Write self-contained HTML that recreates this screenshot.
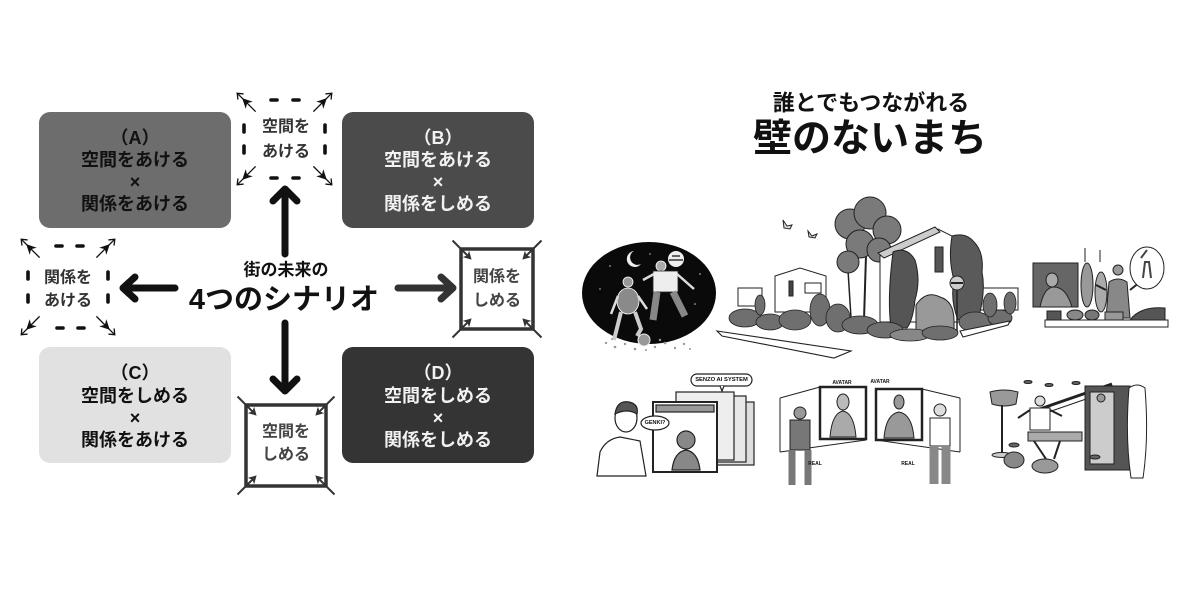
<!DOCTYPE html>
<html><head><meta charset="utf-8"><style>
html,body{margin:0;padding:0;background:#fff;}
svg{display:block;}
text{font-family:"Liberation Sans","Noto Sans CJK JP",sans-serif;font-weight:700;}
</style></head><body>
<svg width="1200" height="600" viewBox="0 0 1200 600" xmlns="http://www.w3.org/2000/svg">
<rect width="1200" height="600" fill="#fff"/>
<defs>
 <g id="oa">
   <line x1="-15" y1="0" x2="11" y2="0" stroke="#111" stroke-width="1.3"/>
   <polygon points="4,0 -6,-5 -3,0 -6,5" fill="#111"/>
   <polyline points="6,-4 11,0 6,4" fill="none" stroke="#111" stroke-width="1.3"/>
 </g>
 <g id="ia">
   <line x1="-13" y1="0" x2="12" y2="0" stroke="#333" stroke-width="2"/>
   <polygon points="-15,0 -7,-4.5 -9,0 -7,4.5" fill="#333"/>
 </g>
</defs>

<!-- ===== Quadrant boxes ===== -->
<rect x="39" y="112" width="192" height="116" rx="11" fill="#6d6d6d"/>
<rect x="342" y="112" width="192" height="116" rx="11" fill="#4b4b4b"/>
<rect x="39" y="347" width="192" height="116" rx="11" fill="#e1e1e1"/>
<rect x="342" y="347" width="192" height="116" rx="11" fill="#343434"/>

<g font-size="18" text-anchor="middle" dominant-baseline="central">
 <g fill="#111">
  <text x="135" y="138">（A）</text>
  <text x="135" y="160">空間をあける</text>
  <text x="135" y="182">×</text>
  <text x="135" y="204">関係をあける</text>
 </g>
 <g fill="#f2f2f2">
  <text x="438" y="138">（B）</text>
  <text x="438" y="160">空間をあける</text>
  <text x="438" y="182">×</text>
  <text x="438" y="204">関係をしめる</text>
 </g>
 <g fill="#111">
  <text x="135" y="373">（C）</text>
  <text x="135" y="396">空間をしめる</text>
  <text x="135" y="418">×</text>
  <text x="135" y="440">関係をあける</text>
 </g>
 <g fill="#f2f2f2">
  <text x="438" y="373">（D）</text>
  <text x="438" y="396">空間をしめる</text>
  <text x="438" y="418">×</text>
  <text x="438" y="440">関係をしめる</text>
 </g>
</g>

<!-- ===== Top dashed box (空間をあける) ===== -->
<g stroke="#111" stroke-width="3.6" stroke-linecap="round">
 <line x1="271" y1="100" x2="277" y2="100"/><line x1="293" y1="100" x2="299" y2="100"/>
 <line x1="271" y1="178" x2="277" y2="178"/><line x1="293" y1="178" x2="299" y2="178"/>
 <line x1="244" y1="125" x2="244" y2="132"/><line x1="244" y1="146" x2="244" y2="153"/>
 <line x1="325" y1="125" x2="325" y2="132"/><line x1="325" y1="146" x2="325" y2="153"/>
</g>
<use href="#oa" transform="translate(245,101) rotate(-135)"/>
<use href="#oa" transform="translate(324,101) rotate(-45)"/>
<use href="#oa" transform="translate(245,177) rotate(135)"/>
<use href="#oa" transform="translate(324,177) rotate(45)"/>
<g font-size="16" fill="#333" text-anchor="middle" dominant-baseline="central">
 <text x="286" y="127">空間を</text>
 <text x="286" y="152">あける</text>
</g>

<!-- ===== Left dashed box (関係をあける) ===== -->
<g stroke="#111" stroke-width="3.6" stroke-linecap="round">
 <line x1="56" y1="246" x2="62" y2="246"/><line x1="77" y1="246" x2="83" y2="246"/>
 <line x1="57" y1="328" x2="63" y2="328"/><line x1="78" y1="328" x2="84" y2="328"/>
 <line x1="28" y1="272" x2="28" y2="279"/><line x1="28" y1="295" x2="28" y2="302"/>
 <line x1="108" y1="272" x2="108" y2="279"/><line x1="108" y1="295" x2="108" y2="302"/>
</g>
<use href="#oa" transform="translate(29,247) rotate(-135)"/>
<use href="#oa" transform="translate(107,247) rotate(-45)"/>
<use href="#oa" transform="translate(29,327) rotate(135)"/>
<use href="#oa" transform="translate(107,327) rotate(45)"/>
<g font-size="16" fill="#333" text-anchor="middle" dominant-baseline="central">
 <text x="68" y="278">関係を</text>
 <text x="68" y="301">あける</text>
</g>

<!-- ===== Right solid box (関係をしめる) ===== -->
<rect x="461" y="249" width="72" height="80" fill="#fff" stroke="#333" stroke-width="3.5"/>
<use href="#ia" transform="translate(461,249) rotate(-135)"/>
<use href="#ia" transform="translate(533,249) rotate(-45)"/>
<use href="#ia" transform="translate(461,329) rotate(135)"/>
<use href="#ia" transform="translate(533,329) rotate(45)"/>
<g font-size="16" fill="#444" text-anchor="middle" dominant-baseline="central">
 <text x="497" y="277">関係を</text>
 <text x="497" y="301">しめる</text>
</g>

<!-- ===== Bottom solid box (空間をしめる) ===== -->
<rect x="246" y="405" width="80" height="81" fill="#fff" stroke="#333" stroke-width="3.5"/>
<use href="#ia" transform="translate(246,405) rotate(-135)"/>
<use href="#ia" transform="translate(326,405) rotate(-45)"/>
<use href="#ia" transform="translate(246,486) rotate(135)"/>
<use href="#ia" transform="translate(326,486) rotate(45)"/>
<g font-size="16" fill="#444" text-anchor="middle" dominant-baseline="central">
 <text x="286" y="432">空間を</text>
 <text x="286" y="455">しめる</text>
</g>

<!-- ===== Big arrows ===== -->
<g fill="none" stroke-width="7" stroke-linecap="round" stroke-linejoin="round">
 <g stroke="#111">
  <line x1="285" y1="194" x2="285" y2="254"/>
  <polyline points="273,201 285,189 297,201"/>
  <line x1="285" y1="323" x2="285" y2="386"/>
  <polyline points="273,379 285,391 297,379"/>
  <line x1="124" y1="288" x2="175" y2="288"/>
  <polyline points="135,277 123,288 135,299"/>
 </g>
 <g stroke="#333">
  <line x1="398" y1="288" x2="450" y2="288"/>
  <polyline points="441,277 453,288 441,299"/>
 </g>
</g>

<!-- ===== Center title ===== -->
<text x="286" y="270" font-size="17" fill="#111" text-anchor="middle" dominant-baseline="central">街の未来の</text>
<text x="284" y="300" font-size="29" fill="#111" text-anchor="middle" dominant-baseline="central">4つのシナリオ</text>

<!-- ===== Right title ===== -->
<text x="871" y="103" font-size="22" fill="#111" text-anchor="middle" dominant-baseline="central">誰とでもつながれる</text>
<text x="870" y="139" font-size="39" font-weight="900" fill="#111" text-anchor="middle" dominant-baseline="central">壁のないまち</text>

<!-- ===== Illustration 1: night soccer ===== -->
<ellipse cx="649" cy="293" rx="67" ry="51" fill="#0a0a0a"/>
<path d="M634,251 a8,8 0 1,0 7,13 a6.5,6.5 0 1,1 -7,-13z" fill="#eee"/>
<circle cx="676" cy="259" r="8" fill="#eee"/>
<path d="M669,260 h14 M672,256 h8" stroke="#111" stroke-width="1.2"/>
<g fill="#ccc">
 <circle cx="610" cy="266" r="0.8"/><circle cx="700" cy="274" r="0.8"/><circle cx="620" cy="304" r="0.7"/>
 <circle cx="695" cy="304" r="0.8"/><circle cx="650" cy="254" r="0.7"/><circle cx="600" cy="289" r="0.7"/>
</g>
<!-- left player -->
<circle cx="628" cy="282" r="5" fill="#999" stroke="#fff" stroke-width="0.8"/>
<ellipse cx="628" cy="301" rx="11" ry="13" fill="#8a8a8a" stroke="#fff" stroke-width="0.8"/>
<path d="M618,296 L611,314 M638,296 L647,309" stroke="#ddd" stroke-width="2.5" fill="none"/>
<path d="M621,312 L614,340 M635,312 L641,329 L637,336" stroke="#ccc" stroke-width="4" fill="none"/>
<!-- right player -->
<circle cx="661" cy="266" r="5" fill="#aaa" stroke="#fff" stroke-width="0.8"/>
<rect x="653" y="271" width="25" height="21" fill="#eee" stroke="#222" stroke-width="0.8"/>
<path d="M654,274 L643,280 M677,274 L694,289" stroke="#ddd" stroke-width="2.5" fill="none"/>
<path d="M657,292 L653,320 M673,292 L685,316" stroke="#888" stroke-width="7" fill="none"/>
<circle cx="644" cy="340" r="6" fill="#999" stroke="#eee" stroke-width="1"/>
<g fill="#999">
 <circle cx="606" cy="343" r="1.2"/><circle cx="615" cy="347" r="1.3"/><circle cx="625" cy="344" r="1.2"/>
 <circle cx="635" cy="349" r="1.3"/><circle cx="655" cy="347" r="1.2"/><circle cx="665" cy="343" r="1.3"/>
 <circle cx="675" cy="348" r="1.2"/><circle cx="684" cy="344" r="1.2"/><circle cx="612" cy="339" r="1"/>
 <circle cx="660" cy="340" r="1.2"/><circle cx="646" cy="350" r="1"/><circle cx="690" cy="349" r="1"/>
</g>

<!-- ===== Illustration 2: houses ===== -->
<g stroke="#222" stroke-width="1">
 <!-- birds -->
 <path d="M783,220 l4,6 l5,-1 l-2,4 l-6,-1z" fill="#ddd"/>
 <path d="M808,231 l4,5 l5,-2 l-2,4 l-6,-1z" fill="#ddd"/>
 <!-- tiny house -->
 <rect x="738" y="288" width="24" height="18" fill="#fff"/>
 <!-- left small house -->
 <polygon points="775,276 800,268 826,276 826,312 775,312" fill="#fff"/>
 <rect x="789" y="281" width="4" height="15" fill="#444"/>
 <rect x="805" y="283" width="16" height="10" fill="#fff"/>
 <!-- right small house -->
 <rect x="980" y="288" width="38" height="22" fill="#fff"/>
 <!-- big tree -->
 <line x1="866" y1="255" x2="864" y2="320" stroke-width="2"/>
 <line x1="848" y1="270" x2="851" y2="318" stroke-width="1.5"/>
 <circle cx="850" cy="224" r="15" fill="#7a7a7a"/>
 <circle cx="870" cy="213" r="16" fill="#7a7a7a"/>
 <circle cx="887" cy="230" r="14" fill="#7a7a7a"/>
 <circle cx="860" cy="244" r="14" fill="#7a7a7a"/>
 <circle cx="879" cy="250" r="12" fill="#7a7a7a"/>
 <circle cx="848" cy="262" r="11" fill="#7a7a7a"/>
 <!-- big house -->
 <polygon points="880,256 938,229 976,248 976,322 880,322" fill="#fff"/>
 <polygon points="878,253 935,227 940,232 884,258" fill="#ccc"/>
 <rect x="935" y="247" width="8" height="25" fill="#555"/>
 <!-- vines -->
 <path d="M952,236 q14,-4 22,6 q10,10 8,30 q4,20 -4,48 l-20,0 q-8,-20 -4,-40 q-6,-20 -2,-44z" fill="#5a5a5a"/>
 <path d="M893,252 q14,-6 22,8 q6,20 0,40 q-2,20 -8,28 l-16,0 q-4,-30 2,-76z" fill="#555"/>
 <path d="M916,305 q10,-15 24,-8 q14,4 14,24 l0,12 l-38,0z" fill="#999"/>
 <!-- sign -->
 <line x1="957" y1="290" x2="957" y2="334" stroke-width="1.5"/>
 <circle cx="957" cy="283" r="7" fill="#ccc"/>
 <line x1="951" y1="283" x2="963" y2="283" stroke-width="2"/>
</g>
<!-- foliage band -->
<g fill="#6f6f6f" stroke="#222" stroke-width="0.8">
 <ellipse cx="745" cy="318" rx="16" ry="9"/>
 <ellipse cx="770" cy="322" rx="14" ry="8"/>
 <ellipse cx="795" cy="320" rx="16" ry="10"/>
 <ellipse cx="820" cy="310" rx="10" ry="16"/>
 <ellipse cx="838" cy="318" rx="12" ry="14"/>
 <ellipse cx="860" cy="325" rx="18" ry="9"/>
 <ellipse cx="885" cy="330" rx="18" ry="8"/>
 <ellipse cx="910" cy="335" rx="20" ry="6" fill="#888"/>
 <ellipse cx="940" cy="333" rx="18" ry="7"/>
 <ellipse cx="975" cy="322" rx="16" ry="10"/>
 <ellipse cx="1000" cy="318" rx="12" ry="8"/>
 <ellipse cx="990" cy="305" rx="7" ry="12"/>
 <ellipse cx="1010" cy="303" rx="6" ry="11"/>
 <ellipse cx="760" cy="305" rx="5" ry="10"/>
</g>
<!-- road strips -->
<polygon points="717,331 851,351 834,358 722,336" fill="#fff" stroke="#222" stroke-width="1.1"/>
<polygon points="960,331 1010,321 1008,325 963,337" fill="#fff" stroke="#222" stroke-width="1.1"/>

<!-- ===== Illustration 3: market stall ===== -->
<g stroke="#222" stroke-width="1">
 <rect x="1033" y="263" width="45" height="44" fill="#666"/>
 <ellipse cx="1052" cy="280" rx="6" ry="7" fill="#aaa"/>
 <path d="M1040,307 q4,-20 14,-20 q12,0 18,20z" fill="#999"/>
 <line x1="1085" y1="248" x2="1085" y2="262"/>
 <line x1="1100" y1="250" x2="1100" y2="262"/>
 <ellipse cx="1087" cy="285" rx="6" ry="22" fill="#999"/>
 <ellipse cx="1101" cy="292" rx="6" ry="20" fill="#aaa"/>
 <circle cx="1118" cy="270" r="5" fill="#999"/>
 <path d="M1106,318 l3,-36 q9,-6 18,0 l3,36z" fill="#888"/>
 <path d="M1106,290 l-10,-5 M1130,290 l10,-8" fill="none" stroke-width="2"/>
 <ellipse cx="1147" cy="268" rx="17" ry="21" fill="#fff"/>
 <path d="M1143,278 l2,-16 l4,0 l2,16 M1141,258 l6,-8" fill="none" stroke="#444" stroke-width="2"/>
 <rect x="1045" y="320" width="123" height="7" fill="#fff"/>
 <rect x="1047" y="311" width="14" height="9" fill="#555"/>
 <ellipse cx="1075" cy="315" rx="8" ry="5" fill="#888"/>
 <ellipse cx="1092" cy="315" rx="7" ry="5" fill="#777"/>
 <rect x="1105" y="312" width="18" height="8" fill="#999"/>
 <path d="M1130,320 q10,-14 35,-12 l0,12z" fill="#555"/>
</g>

<!-- ===== Illustration 4: AI screens ===== -->
<g stroke="#222" stroke-width="1.2">
 <rect x="700" y="402" width="54" height="63" fill="#ddd"/>
 <rect x="690" y="396" width="56" height="66" fill="#e8e8e8"/>
 <rect x="676" y="392" width="58" height="68" fill="#eee"/>
 <rect x="653" y="402" width="64" height="70" fill="#fff" stroke-width="2"/>
 <rect x="656" y="405" width="58" height="7" fill="#999"/>
 <circle cx="686" cy="440" r="9" fill="#888"/>
 <path d="M672,470 q2,-18 14,-20 q12,2 14,20z" fill="#888"/>
 <path d="M597,476 L600,452 Q606,439 620,437 L640,441 L646,476 Z" fill="#fff"/>
 <ellipse cx="626" cy="418" rx="11" ry="14" fill="#fff"/>
 <path d="M615,414 q2,-14 14,-12 q10,2 8,12 q-10,-6 -22,0z" fill="#555"/>
 <ellipse cx="655" cy="423" rx="14" ry="7" fill="#fff"/>
 <rect x="691" y="374" width="61" height="12" rx="6" fill="#fff"/>
 <path d="M720,386 l2,5 l2,-5" fill="#fff"/>
</g>
<text x="655" y="423" font-size="5.5" fill="#111" text-anchor="middle" dominant-baseline="central">GENKI?</text>
<text x="721.5" y="380" font-size="5.8" fill="#111" text-anchor="middle" dominant-baseline="central">SENZO AI SYSTEM</text>

<!-- ===== Illustration 5: avatars ===== -->
<g stroke="#222" stroke-width="1" fill="none">
 <line x1="780" y1="398" x2="820" y2="387"/>
 <line x1="780" y1="398" x2="780" y2="452"/>
 <line x1="780" y1="452" x2="866" y2="440"/>
 <line x1="960" y1="398" x2="922" y2="389"/>
 <line x1="960" y1="398" x2="960" y2="452"/>
 <line x1="960" y1="452" x2="876" y2="440"/>
 <rect x="820" y="387" width="46" height="52" fill="#fff" stroke-width="2.5"/>
 <rect x="876" y="389" width="46" height="51" fill="#fff" stroke-width="2.5"/>
 <ellipse cx="843" cy="402" rx="6" ry="8" fill="#bbb"/>
 <path d="M830,437 q2,-24 13,-26 q11,2 13,26z" fill="#aaa"/>
 <ellipse cx="899" cy="402" rx="5" ry="7" fill="#999"/>
 <path d="M884,438 q2,-24 15,-26 q13,2 15,26z" fill="#999"/>
 <circle cx="800" cy="413" r="6" fill="#999"/>
 <path d="M790,420 h20 v30 h-20z" fill="#777"/>
 <path d="M792,450 v35 M808,450 v35" stroke="#777" stroke-width="7"/>
 <circle cx="940" cy="410" r="6" fill="#ddd"/>
 <path d="M930,418 h20 v28 h-20z" fill="#fff"/>
 <path d="M934,446 v38 M946,446 v38" stroke="#888" stroke-width="9"/>
</g>
<g font-size="5" fill="#111" text-anchor="middle" dominant-baseline="central">
 <text x="842" y="383">AVATAR</text>
 <text x="880" y="382">AVATAR</text>
 <text x="815" y="464">REAL</text>
 <text x="908" y="464">REAL</text>
</g>

<!-- ===== Illustration 6: living room ===== -->
<g stroke="#222" stroke-width="1">
 <ellipse cx="1028" cy="382" rx="4" ry="1.5" fill="#666"/>
 <ellipse cx="1049" cy="385" rx="4" ry="1.5" fill="#666"/>
 <ellipse cx="1076" cy="383" rx="4" ry="1.5" fill="#666"/>
 <path d="M990,392 q14,-4 28,0 l-2,12 q-12,4 -24,0z" fill="#999"/>
 <line x1="1002" y1="405" x2="1002" y2="453" stroke-width="2"/>
 <ellipse cx="1002" cy="455" rx="10" ry="2.5" fill="#ccc"/>
 <line x1="1037" y1="410" x2="1112" y2="384" stroke-width="3"/>
 <line x1="1040" y1="415" x2="1115" y2="389" stroke-width="1"/>
 <rect x="1085" y="386" width="45" height="84" fill="#555"/>
 <rect x="1090" y="392" width="24" height="72" fill="#ccc"/>
 <circle cx="1101" cy="398" r="4" fill="#999"/>
 <path d="M1131,478 q-6,-40 -2,-90 q8,-6 16,0 q4,50 -2,90z" fill="#fff"/>
 <circle cx="1040" cy="401" r="5" fill="#ddd"/>
 <path d="M1030,408 h20 v22 h-20z" fill="#fff"/>
 <path d="M1030,410 l-12,8 M1050,410 l12,6" fill="none" stroke-width="2"/>
 <rect x="1028" y="432" width="54" height="9" fill="#aaa"/>
 <path d="M1034,441 l12,18 M1060,441 l-6,18" fill="none" stroke-width="2"/>
 <ellipse cx="1014" cy="460" rx="10" ry="8" fill="#888"/>
 <ellipse cx="1045" cy="466" rx="13" ry="7" fill="#999"/>
 <ellipse cx="1014" cy="445" rx="5" ry="2" fill="#666"/>
 <ellipse cx="1095" cy="457" rx="5" ry="2" fill="#666"/>
</g>
</svg>
</body></html>
